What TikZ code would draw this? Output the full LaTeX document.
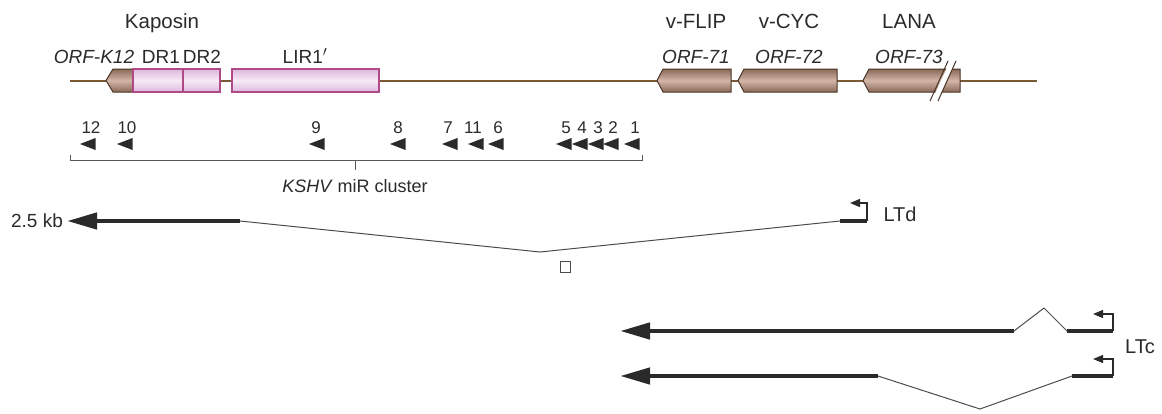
\documentclass[tikz,border=0pt]{standalone}
\usepackage{fontspec}
\setmainfont{Liberation Sans}
\usetikzlibrary{arrows.meta}
\definecolor{brline}{HTML}{7A5A36}
\definecolor{brdark}{HTML}{4B3526}
\definecolor{brlight}{HTML}{D2B6A8}
\definecolor{brmid}{HTML}{8A6858}
\definecolor{pinkfill}{HTML}{DDB8DE}
\definecolor{pinklight}{HTML}{F6EAF6}
\definecolor{pinkborder}{HTML}{B04A86}
\definecolor{txt}{HTML}{2A2A2A}
\begin{document}
\begin{tikzpicture}[x=1pt,y=-1pt,
  title/.style={font=\fontsize{20.5}{24}\selectfont, text=txt, inner sep=0pt, anchor=base},
  lbl/.style={font=\fontsize{19}{22}\selectfont, text=txt, inner sep=0pt, anchor=base},
  orf/.style={font=\fontsize{19}{22}\selectfont\itshape, text=txt, inner sep=0pt, anchor=base},
  mirnum/.style={font=\fontsize{17}{20}\selectfont, text=txt, inner sep=0pt, anchor=base},
  genebox/.style={draw=brdark, line width=1pt, top color=brmid, bottom color=brmid, middle color=brlight},
  pinkbox/.style={draw=pinkborder, line width=1.1pt, top color=pinkfill, bottom color=pinkfill, middle color=pinklight},
  exon/.style={line width=4.5pt, line cap=butt, draw=txt},
  bigarrow/.style={exon, -{Triangle[length=30pt,width=16pt]}},
  intron/.style={line width=1pt, draw=black!70},
  prom/.style={line width=1.3pt, draw=txt, -{Triangle[length=10pt,width=8pt]}},
  mirtri/.style={fill=txt},
  bracket/.style={line width=0.8pt, draw=black!65}
]
\useasboundingbox (0,0) rectangle (1162,413);

% genome line
\coordinate (gL) at (70,81);
\coordinate (gR) at (1037,81);
\draw[brline, line width=2pt] (gL) -- (gR);

% ORF-K12 box
\draw[genebox] (106,80.5) -- (113,69) -- (133,69) -- (133,92) -- (113,92) -- cycle;
% DR1, DR2, LIR1'
\draw[pinkbox] (133,69) rectangle (183,92);
\draw[pinkbox] (183,69) rectangle (220,92);
\draw[pinkbox] (232,69) rectangle (379,92);
% ORF-71, 72, 73
\draw[genebox] (657,80.5) -- (663,69) -- (731,69) -- (731,92) -- (663,92) -- cycle;
\draw[genebox] (738,80.5) -- (744,69) -- (837,69) -- (837,92) -- (744,92) -- cycle;
\draw[genebox] (863,80.5) -- (869,69) -- (960,69) -- (960,92) -- (869,92) -- cycle;
% break marks
\fill[white] (932,100) -- (950,61) -- (956,61) -- (938,100) -- cycle;
\draw[brdark, line width=1pt] (930,101) -- (948,61);
\draw[brdark, line width=1pt] (938,101) -- (956,61);

% gene titles
\node[title] (kap) at (162,28) {Kaposin};
\node[title] (flip) at (696,28) {v-FLIP};
\node[title] (cyc) at (789,28) {v-CYC};
\node[title] (lana) at (909,28) {LANA};
% box labels
\node[orf] (k12) at (94,63) {ORF-K12};
\node[lbl] (dr1) at (161,63) {DR1};
\node[lbl] (dr2) at (202,63) {DR2};
\node[lbl] (lir) at (305,63) {LIR1$'$};
\node[orf] (o71) at (696,63) {ORF-71};
\node[orf] (o72) at (789,63) {ORF-72};
\node[orf] (o73) at (909,63) {ORF-73};

% miRNAs
\foreach \tx/\nx/\n in {80/91/12, 117/127/10, 309/316/9, 390/398/8, 442/448/7, 468/473/11, 488/498/6, 556/566/5, 572/582/4, 588/598/3, 603/613/2, 624/635/1}{
  \fill[mirtri] (\tx,144) -- (\tx+15.5,138) -- (\tx+15.5,150) -- cycle;
  \node[mirnum] (mir\n) at (\nx,133) {\n};
}
% bracket
\coordinate (bL) at (70,155);
\coordinate (bR) at (642,155);
\coordinate (bM) at (355,160);
\draw[bracket] (bL) -- (70,160) -- (642,160) -- (bR);
\draw[bracket] (bM) -- ++(0,10);
\node[lbl, font=\fontsize{18}{21}\selectfont] (clu) at (355,192) {\textit{KSHV} miR cluster};

% LTd
\coordinate (d1) at (240,221);
\coordinate (dtip) at (67,221);
\coordinate (dv) at (540,252);
\coordinate (d2) at (840,221);
\coordinate (d3) at (867,221);
\draw[bigarrow] (d1) -- (dtip);
\draw[intron] (d1) -- (dv) -- (d2);
\draw[exon] (d2) -- (d3);
\draw[prom] (d3) -- ++(0,-18) -- ++(-17,0);
\node[lbl] (kb) at (37,227) {2.5 kb};
\node[lbl, font=\fontsize{20}{23}\selectfont] (ltd) at (900,221) {LTd};
\draw[black!70, line width=0.9pt] (560,261) rectangle (570,272);

% LTc top
\coordinate (c1) at (1014,331);
\coordinate (ctip) at (620,331);
\coordinate (cpk) at (1044,308);
\coordinate (c2) at (1067,331);
\coordinate (c3) at (1113,331);
\draw[bigarrow] (c1) -- (ctip);
\draw[intron] (c1) -- (cpk) -- (c2);
\draw[exon] (c2) -- (c3);
\draw[prom] (c3) -- ++(0,-17) -- ++(-20,0);

% LTc bottom
\coordinate (e1) at (878,376);
\coordinate (etip) at (620,376);
\coordinate (ev) at (980,409);
\coordinate (e2) at (1072,376);
\coordinate (e3) at (1113,376);
\draw[bigarrow] (e1) -- (etip);
\draw[intron] (e1) -- (ev) -- (e2);
\draw[exon] (e2) -- (e3);
\draw[prom] (e3) -- ++(0,-17) -- ++(-20,0);
\node[lbl, font=\fontsize{20}{23}\selectfont] (ltc) at (1140,353) {LTc};
\end{tikzpicture}
\end{document}
